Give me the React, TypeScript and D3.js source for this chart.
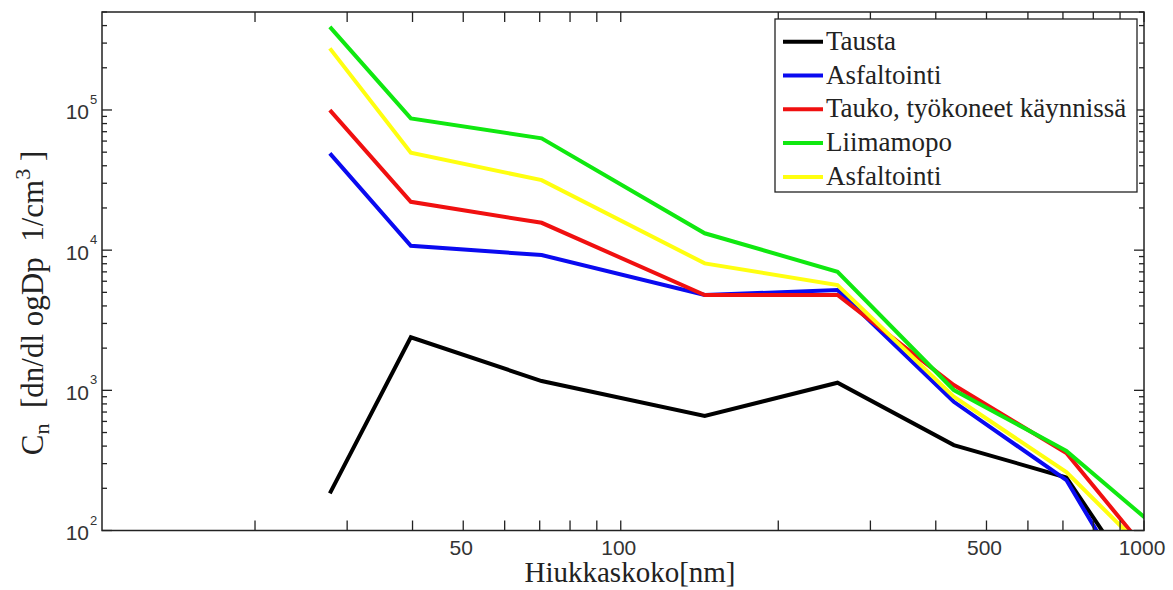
import React from 'react';
import * as d3 from 'd3';

const sizes = [27.8, 39.7, 70.6, 144.7, 259.6, 433, 710.6, 1200];
const tausta = [184, 2390, 1165, 656, 1133, 407, 239, 13];
const asfaltointiA = [49000, 10740, 9230, 4785, 5190, 828, 229, 8.6];
const tauko = [99800, 22130, 15670, 4785, 4785, 1091, 357, 33];
const liimamopo = [392000, 87100, 62700, 13190, 7015, 1005, 370, 70];
const asfaltointiB = [275000, 49500, 31600, 8050, 5640, 900, 261, 37.5];

const seriesNames = ['Tausta', 'Asfaltointi', 'Tauko, työkoneet käynnissä', 'Liimamopo', 'Asfaltointi'];
const seriesValues = [tausta, asfaltointiA, tauko, liimamopo, asfaltointiB];
const seriesColors = ['#000000', '#0a0af0', '#f01010', '#10e810', '#ffff10'];

const xTickValues = [20, 30, 40, 50, 60, 70, 80, 90, 100, 200, 300, 400, 500, 600, 700, 800, 900, 1000];
const xTickLabels = [50, 100, 500, 1000];
const yMajorExps = [2, 3, 4, 5];

export default function App() {
  const W = 1173, H = 590;
  const left = 102, right = 1144, top = 12, bottom = 530.5;
  const x = d3.scaleLog().domain([10.2, 1000]).range([left, right]);
  const y = d3.scaleLog().domain([100, 5e5]).range([bottom, top]);

  const yMinor: number[] = [];
  yMajorExps.forEach(e => {
    for (let k = 2; k <= 9; k++) {
      const v = k * Math.pow(10, e);
      if (v <= 5e5) yMinor.push(v);
    }
  });

  const line = d3.line<[number, number]>().x(d => x(d[0])).y(d => y(d[1]));

  const legX = 775, legY = 19, legW = 362, legH = 173;
  const rowH = 33.8;

  return (
    <svg width={W} height={H} style={{ position: 'absolute', left: 0, top: 0, background: '#fff' }}>
      <defs>
        <clipPath id="plotclip">
          <rect x={left} y={top} width={right - left} height={bottom - top} />
        </clipPath>
      </defs>
      <rect x={0} y={0} width={W} height={H} fill="#fff" />
      <g clipPath="url(#plotclip)">
        {seriesValues.map((vals, i) => (
          <path
            key={i}
            d={line(sizes.map((s, j) => [s, vals[j]] as [number, number])) || ''}
            fill="none"
            stroke={seriesColors[i]}
            strokeWidth={4}
            strokeLinejoin="miter"
          />
        ))}
      </g>
      <rect x={left} y={top} width={right - left} height={bottom - top} fill="none" stroke="#222" strokeWidth={1.5} />
      {xTickValues.map(v => (
        <g key={'xt' + v} stroke="#222" strokeWidth={1.3}>
          <line x1={x(v)} x2={x(v)} y1={bottom} y2={bottom - 10} />
          <line x1={x(v)} x2={x(v)} y1={top} y2={top + 10} />
        </g>
      ))}
      {xTickLabels.map(v => (
        <text key={'xl' + v} x={x(v) - 2} y={555} textAnchor="middle" fontFamily="Liberation Sans, Arial, sans-serif" fontSize={21} fill="#333">
          {v}
        </text>
      ))}
      {yMajorExps.map(e => {
        const v = Math.pow(10, e);
        return (
          <g key={'ym' + e} stroke="#222" strokeWidth={1.3}>
            <line x1={left} x2={left + 10} y1={y(v)} y2={y(v)} />
            <line x1={right} x2={right - 10} y1={y(v)} y2={y(v)} />
          </g>
        );
      })}
      {yMinor.map(v => (
        <g key={'yn' + v} stroke="#222" strokeWidth={1.3}>
          <line x1={left} x2={left + 5} y1={y(v)} y2={y(v)} />
          <line x1={right} x2={right - 5} y1={y(v)} y2={y(v)} />
        </g>
      ))}
      {yMajorExps.map(e => {
        const v = Math.pow(10, e);
        return (
          <g key={'yl' + e} fontFamily="Liberation Sans, Arial, sans-serif" fill="#333">
            <text x={89} y={y(v) + 9.5} textAnchor="end" fontSize={21}>10</text>
            <text x={90} y={y(v) - 6} fontSize={13}>{e}</text>
          </g>
        );
      })}
      <text x={630} y={582} textAnchor="middle" fontFamily="Liberation Serif, Times New Roman, serif" fontSize={29} fill="#222">
        Hiukkaskoko[nm]
      </text>
      <text
        transform={`translate(43,303) rotate(-90)`}
        textAnchor="middle"
        fontFamily="Liberation Serif, Times New Roman, serif"
        fontSize={31}
        fill="#222"
        style={{ whiteSpace: 'pre' }}
      >
        <tspan>C</tspan>
        <tspan fontSize={22} dy={6}>n</tspan>
        <tspan dy={-6}>{'  [dn/dl ogDp  1/cm'}</tspan>
        <tspan fontSize={22} dy={-13}>3</tspan>
        <tspan dy={13}>{' ]'}</tspan>
      </text>
      <rect x={legX} y={legY} width={legW} height={legH} fill="#fff" stroke="#222" strokeWidth={1.3} />
      {seriesNames.map((name, i) => {
        const cy = legY + 22.7 + i * rowH;
        return (
          <g key={'lg' + i}>
            <line x1={legX + 8} x2={legX + 48} y1={cy} y2={cy} stroke={seriesColors[i]} strokeWidth={4} />
            <text x={legX + 51} y={cy + 8} fontFamily="Liberation Serif, Times New Roman, serif" fontSize={27} fill="#222">
              {name}
            </text>
          </g>
        );
      })}
    </svg>
  );
}
